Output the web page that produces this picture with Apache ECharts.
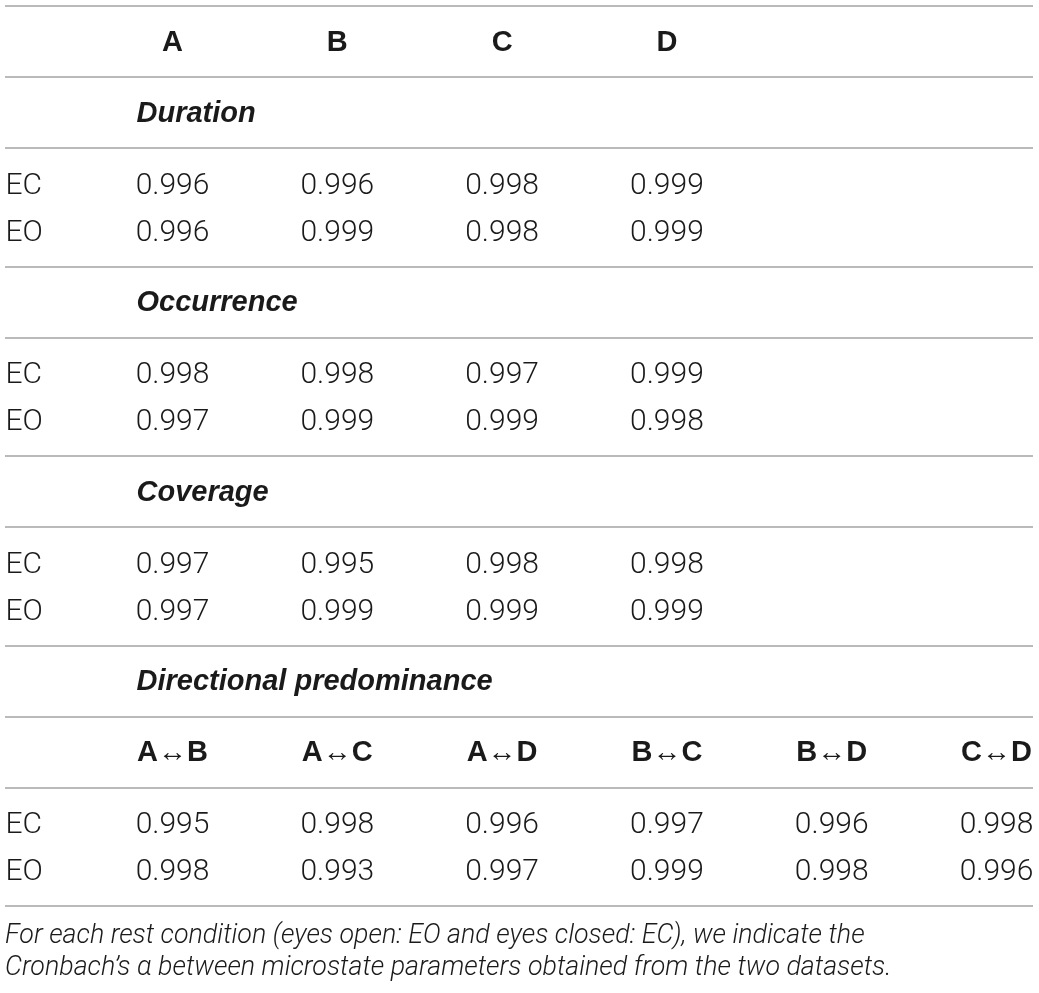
<!DOCTYPE html>
<html>
<head>
<meta charset="utf-8">
<script src="https://cdn.jsdelivr.net/npm/echarts@6/dist/echarts.min.js"></script>
<style>
  html, body { margin: 0; padding: 0; background: #fff; }
  #box { width: 1039px; height: 993px; }
</style>
</head>
<body>
<div id="box"></div>
<script>
// table content
var stateColumns = ['A', 'B', 'C', 'D'];
var pairColumns = ['A↔B', 'A↔C', 'A↔D', 'B↔C', 'B↔D', 'C↔D'];
var conditions = ['EC', 'EO'];
var sections = ['Duration', 'Occurrence', 'Coverage', 'Directional predominance'];

var durationEC = [0.996, 0.996, 0.998, 0.999];
var durationEO = [0.996, 0.999, 0.998, 0.999];
var occurrenceEC = [0.998, 0.998, 0.997, 0.999];
var occurrenceEO = [0.997, 0.999, 0.999, 0.998];
var coverageEC = [0.997, 0.995, 0.998, 0.998];
var coverageEO = [0.997, 0.999, 0.999, 0.999];
var directionalEC = [0.995, 0.998, 0.996, 0.997, 0.996, 0.998];
var directionalEO = [0.998, 0.993, 0.997, 0.999, 0.998, 0.996];

var footnote = 'For each rest condition (eyes open: EO and eyes closed: EC), we indicate the\n' +
    'Cronbach\u2019s \u03b1 between microstate parameters obtained from the two datasets.';

// layout of the rows (top to bottom)
var BAND = 71;       // header / section title band
var BLOCK = 118.5;   // EC + EO block
var PAD = 36;        // from block top to first row
var STEP = 47;       // between EC and EO
var TOP = 6;

function colCenter(i) { return 172.5 + i * 164.8; }

var blocks = [
    {type: 'header', labels: stateColumns},
    {type: 'section', title: sections[0]},
    {type: 'data', rows: [durationEC, durationEO]},
    {type: 'section', title: sections[1]},
    {type: 'data', rows: [occurrenceEC, occurrenceEO]},
    {type: 'section', title: sections[2]},
    {type: 'data', rows: [coverageEC, coverageEO]},
    {type: 'section', title: sections[3]},
    {type: 'header', labels: pairColumns},
    {type: 'data', rows: [directionalEC, directionalEO]}
];

var headerPts = [], titlePts = [], rowLabelPts = [], valuePts = [], rules = [];
var y = TOP;
rules.push({yAxis: y});
blocks.forEach(function (b) {
    if (b.type === 'header') {
        b.labels.forEach(function (t, i) {
            headerPts.push({value: [colCenter(i), y + BAND / 2], name: t});
        });
        y += BAND;
    } else if (b.type === 'section') {
        titlePts.push({value: [136, y + BAND / 2], name: b.title});
        y += BAND;
    } else {
        b.rows.forEach(function (vals, r) {
            var ry = y + PAD + r * STEP;
            rowLabelPts.push({value: [5, ry], name: conditions[r]});
            vals.forEach(function (v, i) {
                valuePts.push({value: [colCenter(i), ry], name: v.toFixed(3)});
            });
        });
        y += BLOCK;
    }
    rules.push({yAxis: y});
});

var BOLD_FONT = '"Liberation Sans", Arial, sans-serif';
var LIGHT_FONT = 'Roboto, "Liberation Sans", sans-serif';
var INK = '#1a1a1a';

function textSeries(data, pos, extra) {
    var label = Object.assign({
        show: true,
        position: pos,
        distance: 0,
        offset: [0, 2],
        formatter: '{b}',
        fontFamily: LIGHT_FONT,
        fontWeight: 300,
        fontSize: 30,
        color: INK
    }, extra || {});
    return {
        type: 'scatter',
        data: data,
        symbol: 'circle',
        symbolSize: 1,
        itemStyle: {color: 'rgba(0,0,0,0)', opacity: 1},
        label: label,
        silent: true
    };
}

var chart = echarts.init(document.getElementById('box'));
var option = {
    animation: false,
    grid: {left: 5, right: 6, top: 0, bottom: 0},
    xAxis: {type: 'value', min: 5, max: 1033, show: false},
    yAxis: {type: 'value', min: 0, max: 993, inverse: true, show: false},
    title: {
        text: footnote,
        left: 5,
        top: 920,
        padding: 0,
        textStyle: {
            fontFamily: LIGHT_FONT,
            fontSize: 26.8,
            fontStyle: 'italic',
            fontWeight: 300,
            color: INK,
            lineHeight: 32
        }
    },
    series: [
        {
            type: 'scatter',
            data: [],
            silent: true,
            markLine: {
                silent: true,
                symbol: 'none',
                label: {show: false},
                lineStyle: {color: '#a3a3a3', width: 1.6, type: 'solid', opacity: 1},
                data: rules
            }
        },
        textSeries(headerPts, 'inside', {fontFamily: BOLD_FONT, fontWeight: 'bold', fontSize: 29, offset: [0, 1]}),
        textSeries(titlePts, 'right', {fontFamily: BOLD_FONT, fontWeight: 'bold', fontStyle: 'italic', fontSize: 29, offset: [0, 1]}),
        textSeries(rowLabelPts, 'right'),
        textSeries(valuePts, 'inside')
    ]
};
chart.setOption(option);
</script>
</body>
</html>
